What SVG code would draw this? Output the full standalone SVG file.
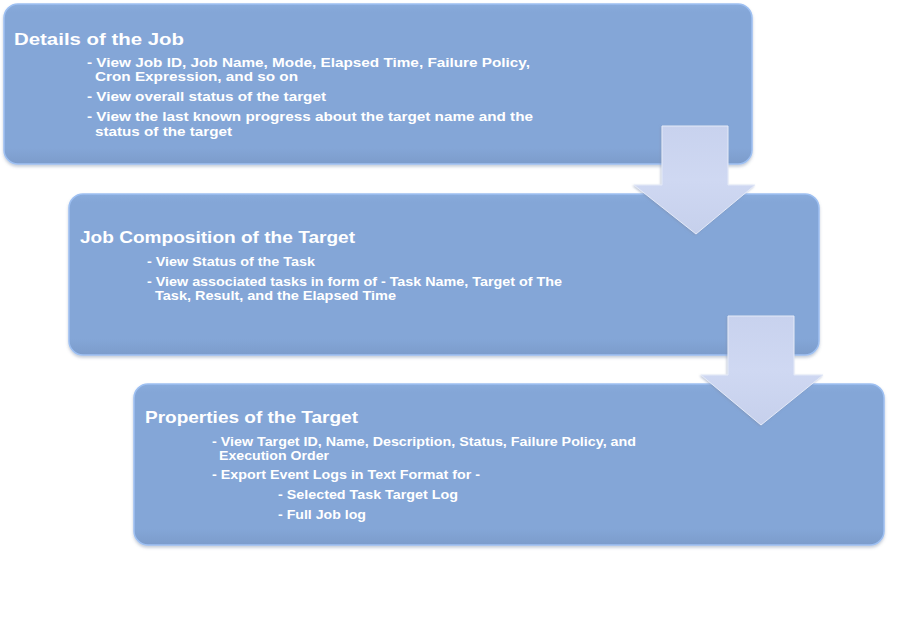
<svg xmlns="http://www.w3.org/2000/svg" width="924" height="636" viewBox="0 0 924 636">
<style>
.box{fill:url(#boxg);stroke:#9EC0F2;stroke-width:1.5;filter:url(#sh)}
.t{font-family:"Liberation Sans",Arial,sans-serif;font-weight:bold;fill:#FFFFFF}
.h{font-size:17px}
.i{font-size:13px}
.arr{fill:url(#arrg);stroke:#E4EAF8;stroke-width:1}
</style>
<defs>
<linearGradient id="boxg" x1="0" y1="0" x2="0" y2="1">
<stop offset="0" stop-color="#8AACDC"/>
<stop offset="0.05" stop-color="#84A6D7"/>
<stop offset="0.9" stop-color="#84A6D7"/>
<stop offset="1" stop-color="#7C9CCB"/>
</linearGradient>
<linearGradient id="arrg" x1="0" y1="0" x2="0" y2="1">
<stop offset="0" stop-color="#C8D2EE"/>
<stop offset="0.5" stop-color="#CFD8F2"/>
<stop offset="1" stop-color="#C6D0EC"/>
</linearGradient>
<filter id="sh" x="-5%" y="-5%" width="110%" height="115%">
<feDropShadow dx="0" dy="2" stdDeviation="1.5" flood-color="#5A6E90" flood-opacity="0.35"/>
</filter>
<filter id="ash" x="-10%" y="-10%" width="120%" height="120%">
<feDropShadow dx="-1" dy="1" stdDeviation="0.8" flood-color="#8090B0" flood-opacity="0.5"/>
</filter>
</defs>
<rect width="924" height="636" fill="#FFFFFF"/>
<g id="node-details">
<rect class="box" x="4" y="4" width="748" height="160" rx="14"/>
<text class="t h" x="14" y="45" textLength="170" lengthAdjust="spacingAndGlyphs">Details of the Job</text>
<text class="t i" x="87" y="67" textLength="443" lengthAdjust="spacingAndGlyphs">- View Job ID, Job Name, Mode, Elapsed Time, Failure Policy,</text>
<text class="t i" x="95" y="81" textLength="203" lengthAdjust="spacingAndGlyphs">Cron Expression, and so on</text>
<text class="t i" x="87" y="101" textLength="239" lengthAdjust="spacingAndGlyphs">- View overall status of the target</text>
<text class="t i" x="87" y="121" textLength="446" lengthAdjust="spacingAndGlyphs">- View the last known progress about the target name and the</text>
<text class="t i" x="95" y="136" textLength="137" lengthAdjust="spacingAndGlyphs">status of the target</text>
</g>
<g id="node-composition">
<rect class="box" x="69" y="194" width="750" height="161" rx="14"/>
<text class="t h" x="80" y="243" textLength="275" lengthAdjust="spacingAndGlyphs">Job Composition of the Target</text>
<text class="t i" x="147" y="266" textLength="168" lengthAdjust="spacingAndGlyphs">- View Status of the Task</text>
<text class="t i" x="147" y="286" textLength="415" lengthAdjust="spacingAndGlyphs">- View associated tasks in form of - Task Name, Target of The</text>
<text class="t i" x="155" y="300" textLength="241" lengthAdjust="spacingAndGlyphs">Task,  Result, and the Elapsed Time</text>
</g>
<g id="node-properties">
<rect class="box" x="134" y="384" width="750" height="161" rx="14"/>
<text class="t h" x="145" y="423" textLength="213" lengthAdjust="spacingAndGlyphs">Properties of the Target</text>
<text class="t i" x="212" y="446" textLength="424" lengthAdjust="spacingAndGlyphs">- View Target ID, Name, Description, Status, Failure Policy, and</text>
<text class="t i" x="219" y="460" textLength="110" lengthAdjust="spacingAndGlyphs">Execution Order</text>
<text class="t i" x="212" y="479" textLength="268" lengthAdjust="spacingAndGlyphs">- Export Event Logs in Text Format for -</text>
<text class="t i" x="278" y="499" textLength="180" lengthAdjust="spacingAndGlyphs">- Selected Task Target Log</text>
<text class="t i" x="278" y="519" textLength="88" lengthAdjust="spacingAndGlyphs">- Full Job log</text>
</g>
<g id="connectors">
<path class="arr" filter="url(#ash)" d="M662,126 L728,126 L728,185 L755,185 L696,234 L634,185 L662,185 Z"/>
<path class="arr" filter="url(#ash)" d="M728,316 L794,316 L794,375 L823,375 L761,425 L701,375 L728,375 Z"/>
</g>
</svg>
